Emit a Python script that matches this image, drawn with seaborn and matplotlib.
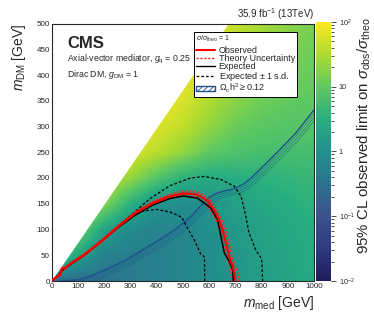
import numpy as np
import matplotlib
matplotlib.use("Agg")
import matplotlib.pyplot as plt
import matplotlib.transforms as mtransforms
import seaborn as sns
from matplotlib.colors import LogNorm, Normalize, LinearSegmentedColormap
from matplotlib.cm import ScalarMappable
from matplotlib.lines import Line2D
from matplotlib.patches import Patch
from matplotlib.ticker import MultipleLocator, FixedLocator, NullFormatter

# ---------------- data ----------------
med_grid = [0, 100, 200, 300, 400, 500, 600, 700, 800, 900, 1000]
dm_grid = [0, 50, 100, 150, 200, 250, 300, 350, 400, 450, 500]
# log10(sigma_obs/sigma_theo), rows = dm_grid, cols = med_grid
log_limit = [
    [-0.65, -0.60, -0.50, -0.38, -0.28, -0.18, -0.07, 0.05, 0.20, 0.32, 0.42],
    [1.20, 0.35, -0.26, -0.30, -0.26, -0.18, -0.05, 0.10, 0.24, 0.35, 0.45],
    [1.60, 1.20, 0.30, -0.10, -0.22, -0.16, -0.03, 0.13, 0.28, 0.38, 0.48],
    [1.90, 1.60, 1.25, 0.55, 0.05, -0.07, 0.05, 0.25, 0.38, 0.47, 0.56],
    [2.00, 1.90, 1.65, 1.35, 0.90, 0.55, 0.42, 0.48, 0.54, 0.60, 0.66],
    [2.00, 2.00, 1.90, 1.78, 1.58, 1.32, 1.00, 0.86, 0.80, 0.78, 0.78],
    [2.00, 2.00, 2.00, 1.90, 1.80, 1.62, 1.32, 1.08, 0.96, 0.92, 0.90],
    [2.00, 2.00, 2.00, 2.00, 1.90, 1.76, 1.52, 1.26, 1.10, 1.02, 0.98],
    [2.00, 2.00, 2.00, 2.00, 2.00, 1.86, 1.66, 1.40, 1.22, 1.10, 1.05],
    [2.00, 2.00, 2.00, 2.00, 2.00, 1.95, 1.76, 1.55, 1.35, 1.20, 1.10],
    [2.00, 2.00, 2.00, 2.00, 2.00, 2.00, 1.86, 1.65, 1.45, 1.28, 1.15],
]
diag_ratio = 0.74  # m_DM / m_med beyond which no points exist

obs_med = [0, 5, 25, 32, 38, 52, 60, 123, 188, 253, 318, 383, 448, 500, 542, 568,
           594, 619, 638, 651, 664, 677, 690, 696, 700]
obs_dm = [0, 3, 10, 12, 25, 25, 30, 51, 77, 106, 132, 151, 164, 170, 169, 164,
          155, 138, 119, 99, 73, 47, 28, 15, 0]

theo_up_med = [0, 60, 123, 188, 253, 318, 383, 448, 500, 545, 575, 603, 628, 648,
               662, 675, 688, 701, 709, 713]
theo_up_dm = [0, 31, 53, 79, 108, 134, 154, 168, 175, 174, 168, 158, 140, 120,
              99, 73, 47, 28, 15, 0]
theo_dn_med = [0, 60, 123, 188, 253, 318, 383, 448, 500, 540, 562, 585, 609, 627,
               640, 653, 666, 679, 684, 687]
theo_dn_dm = [0, 29, 49, 75, 104, 130, 148, 160, 165, 164, 158, 150, 134, 117,
              98, 72, 46, 27, 14, 0]

exp_med = [0, 10, 30, 38, 50, 123, 188, 253, 318, 383, 448, 500, 555, 606, 632,
           645, 658, 677, 690, 692]
exp_dm = [0, 5, 12, 22, 25, 50, 77, 104, 128, 147, 160, 165, 161, 142, 119,
          86, 54, 38, 21, 0]

exp_up_med = [0, 60, 123, 188, 253, 300, 374, 450, 529, 581, 645, 696, 722, 740,
              752, 778, 800, 804]
exp_up_dm = [0, 30, 51, 78, 107, 127, 160, 185, 200, 203, 197, 184, 164, 125,
             93, 60, 43, 0]
exp_dn_med = [0, 60, 123, 188, 253, 310, 350, 400, 450, 495, 520, 545, 568,
              582, 583]
exp_dn_dm = [0, 30, 51, 77, 105, 128, 136, 139, 134, 124, 100, 78, 52, 47, 0]

relic_med = [25, 100, 150, 213, 280, 342, 410, 471, 530, 575, 600, 625, 660,
             700, 730, 760, 800, 860, 930, 1000]
relic_dm = [0, 2, 10, 24, 40, 59, 80, 100, 125, 150, 162, 170, 175, 180, 188,
            200, 220, 250, 287, 332]

x_ticks = [0, 100, 200, 300, 400, 500, 600, 700, 800, 900, 1000]
y_ticks = [0, 50, 100, 150, 200, 250, 300, 350, 400, 450, 500]
cbar_ticks = [1e-2, 1e-1, 1, 10, 1e2]
cbar_ticklabels = [r"10$^{-2}$", r"10$^{-1}$", "1", "10", r"10$^{2}$"]

# ---------------- style ----------------
sns.set_style("ticks")
plt.rcParams["font.family"] = ["Liberation Sans", "DejaVu Sans"]
plt.rcParams["mathtext.fontset"] = "custom"
plt.rcParams["mathtext.rm"] = "Liberation Sans"
plt.rcParams["mathtext.it"] = "Liberation Sans:italic"
plt.rcParams["mathtext.bf"] = "Liberation Sans:bold"
plt.rcParams["hatch.color"] = "#1f4e8c"
plt.rcParams["hatch.linewidth"] = 0.6

cmap = LinearSegmentedColormap.from_list("cmsviridis", [
    (0.0, "#1e1b5c"), (0.125, "#2f3a80"), (0.25, "#3b528b"), (0.375, "#2c728e"),
    (0.5, "#21918c"), (0.625, "#28ae80"), (0.75, "#5ec962"), (0.875, "#addc30"),
    (1.0, "#fde725")])
lognorm = LogNorm(vmin=1e-2, vmax=1e2)

W, H = 374, 323
fig = plt.figure(figsize=(W / 100, H / 100), dpi=100)
ax = fig.add_axes([52 / W, 42 / H, 262 / W, 257.5 / H])
cax = fig.add_axes([316 / W, 42 / H, 15 / W, 259 / H])

# heat map (log10 values, smooth library interpolation between grid nodes)
dx = (med_grid[1] - med_grid[0]) / 2
dy = (dm_grid[1] - dm_grid[0]) / 2
ax.imshow(np.array(log_limit), origin="lower", cmap=cmap,
          norm=Normalize(vmin=np.log10(lognorm.vmin), vmax=np.log10(lognorm.vmax)),
          extent=(med_grid[0] - dx, med_grid[-1] + dx, dm_grid[0] - dy, dm_grid[-1] + dy),
          interpolation="bilinear", aspect="auto", zorder=1)
edge_x = np.array([med_grid[0], med_grid[-1]])
ax.fill_between(edge_x, diag_ratio * edge_x, dm_grid[-1] + 30, color="white",
                zorder=1.5, linewidth=0)

# relic density line with hatch
blue = "#1f4e8c"
sns.lineplot(x=relic_med, y=relic_dm, sort=False, estimator=None, ax=ax,
             color=blue, linewidth=1.0, zorder=3)
for k in (1, 2, 3):
    tr = mtransforms.offset_copy(ax.transData, fig=fig, x=1.6 * k, y=-1.6 * k,
                                 units="dots")
    ax.plot(relic_med, relic_dm, color=blue, linewidth=0.4, alpha=0.75,
            transform=tr, zorder=2.9)

# limit contours
def curve(xs, ys, **kw):
    sns.lineplot(x=xs, y=ys, sort=False, estimator=None, ax=ax, **kw)

dash = (0, (2.2, 1.6))
dot = (0, (1.6, 1.2))
curve(exp_up_med, exp_up_dm, color="black", linewidth=0.9, linestyle=dash, zorder=4)
curve(exp_dn_med, exp_dn_dm, color="black", linewidth=0.9, linestyle=dash, zorder=4)
curve(theo_up_med, theo_up_dm, color="#ff2020", linewidth=1.0, linestyle=dot, zorder=4)
curve(theo_dn_med, theo_dn_dm, color="#ff2020", linewidth=1.0, linestyle=dot, zorder=4)
curve(exp_med, exp_dm, color="black", linewidth=1.1, zorder=5)
curve(obs_med, obs_dm, color="#ff0000", linewidth=1.7, zorder=6)

ax.set_xlim(0, 1000)
ax.set_ylim(0, 500)
ax.xaxis.set_major_locator(FixedLocator(x_ticks))
ax.yaxis.set_major_locator(FixedLocator(y_ticks))
ax.xaxis.set_minor_locator(MultipleLocator(20))
ax.yaxis.set_minor_locator(MultipleLocator(10))
ax.tick_params(which="both", direction="in", top=True, right=True, labelsize=5.8,
               width=0.6, pad=1.5, color="#333333")
ax.tick_params(which="major", length=5)
ax.tick_params(which="minor", length=2.5)
for s in ax.spines.values():
    s.set_linewidth(0.8)
ax.set_xlabel(r"$m_{\mathrm{med}}$ [GeV]", fontsize=10, loc="right", labelpad=3)
ax.set_ylabel(r"$m_{\mathrm{DM}}$ [GeV]", fontsize=10, loc="top", labelpad=6)

# texts
ax.text(0.057, 0.905, "CMS", transform=ax.transAxes, fontsize=12,
        fontweight="bold", va="baseline", ha="left")
ax.text(0.057, 0.853, r"Axial-vector mediator, $g_{\mathrm{q}}$ = 0.25",
        transform=ax.transAxes, fontsize=6.3, va="baseline", ha="left")
ax.text(0.057, 0.792, r"Dirac DM, $g_{\mathrm{DM}}$ = 1",
        transform=ax.transAxes, fontsize=6.3, va="baseline", ha="left")
ax.text(1.0, 1.022, r"35.9 fb$^{-1}$ (13TeV)", transform=ax.transAxes,
        fontsize=7, va="baseline", ha="right")

# legend
handles = [
    Line2D([], [], color="#ff0000", linewidth=1.5),
    Line2D([], [], color="#ff2020", linewidth=1.0, linestyle=dot),
    Line2D([], [], color="black", linewidth=1.0),
    Line2D([], [], color="black", linewidth=0.9, linestyle=dash),
    Patch(facecolor="white", edgecolor=blue, hatch="//////", linewidth=1.0),
]
labels = ["Observed", "Theory Uncertainty", "Expected", r"Expected $\pm$ 1 s.d.",
          r"$\Omega_{\mathrm{c}}\mathrm{h}^{2}\geq 0.12$"]
leg = ax.legend(handles, labels, loc="upper left", bbox_to_anchor=(0.542, 0.967),
                fontsize=6.5, title=r"$\sigma/\sigma_{\mathrm{theo}}$ = 1",
                title_fontsize=5.0, frameon=True, fancybox=False, framealpha=1,
                edgecolor="black", borderpad=0.22, labelspacing=-0.1,
                handlelength=2.1, handleheight=0.6, handletextpad=0.4,
                borderaxespad=0.0)
leg._legend_box.align = "left"
leg._legend_box.sep = 1
leg.get_frame().set_linewidth(0.7)
leg.set_zorder(10)

# colorbar
cb = fig.colorbar(ScalarMappable(norm=lognorm, cmap=cmap), cax=cax)
cb.outline.set_visible(False)
cax.yaxis.set_major_locator(FixedLocator(cbar_ticks))
cax.set_yticklabels(cbar_ticklabels)
minor = [m * 10.0 ** e for e in range(-2, 2) for m in range(2, 10)]
cax.yaxis.set_minor_locator(FixedLocator(minor))
cax.yaxis.set_minor_formatter(NullFormatter())
cax.tick_params(which="both", direction="out", labelsize=5.2, width=0.6,
                pad=2, color="#333333")
cax.tick_params(which="major", length=3.5)
cax.tick_params(which="minor", length=2)
fig.text(364.5 / W, 1 - 17 / H,
         r"95% CL observed limit on $\sigma_{\mathrm{obs}}/\sigma_{\mathrm{theo}}$",
         rotation=90, ha="center", va="top", fontsize=10.8)

fig.savefig("out.png", dpi=100)
